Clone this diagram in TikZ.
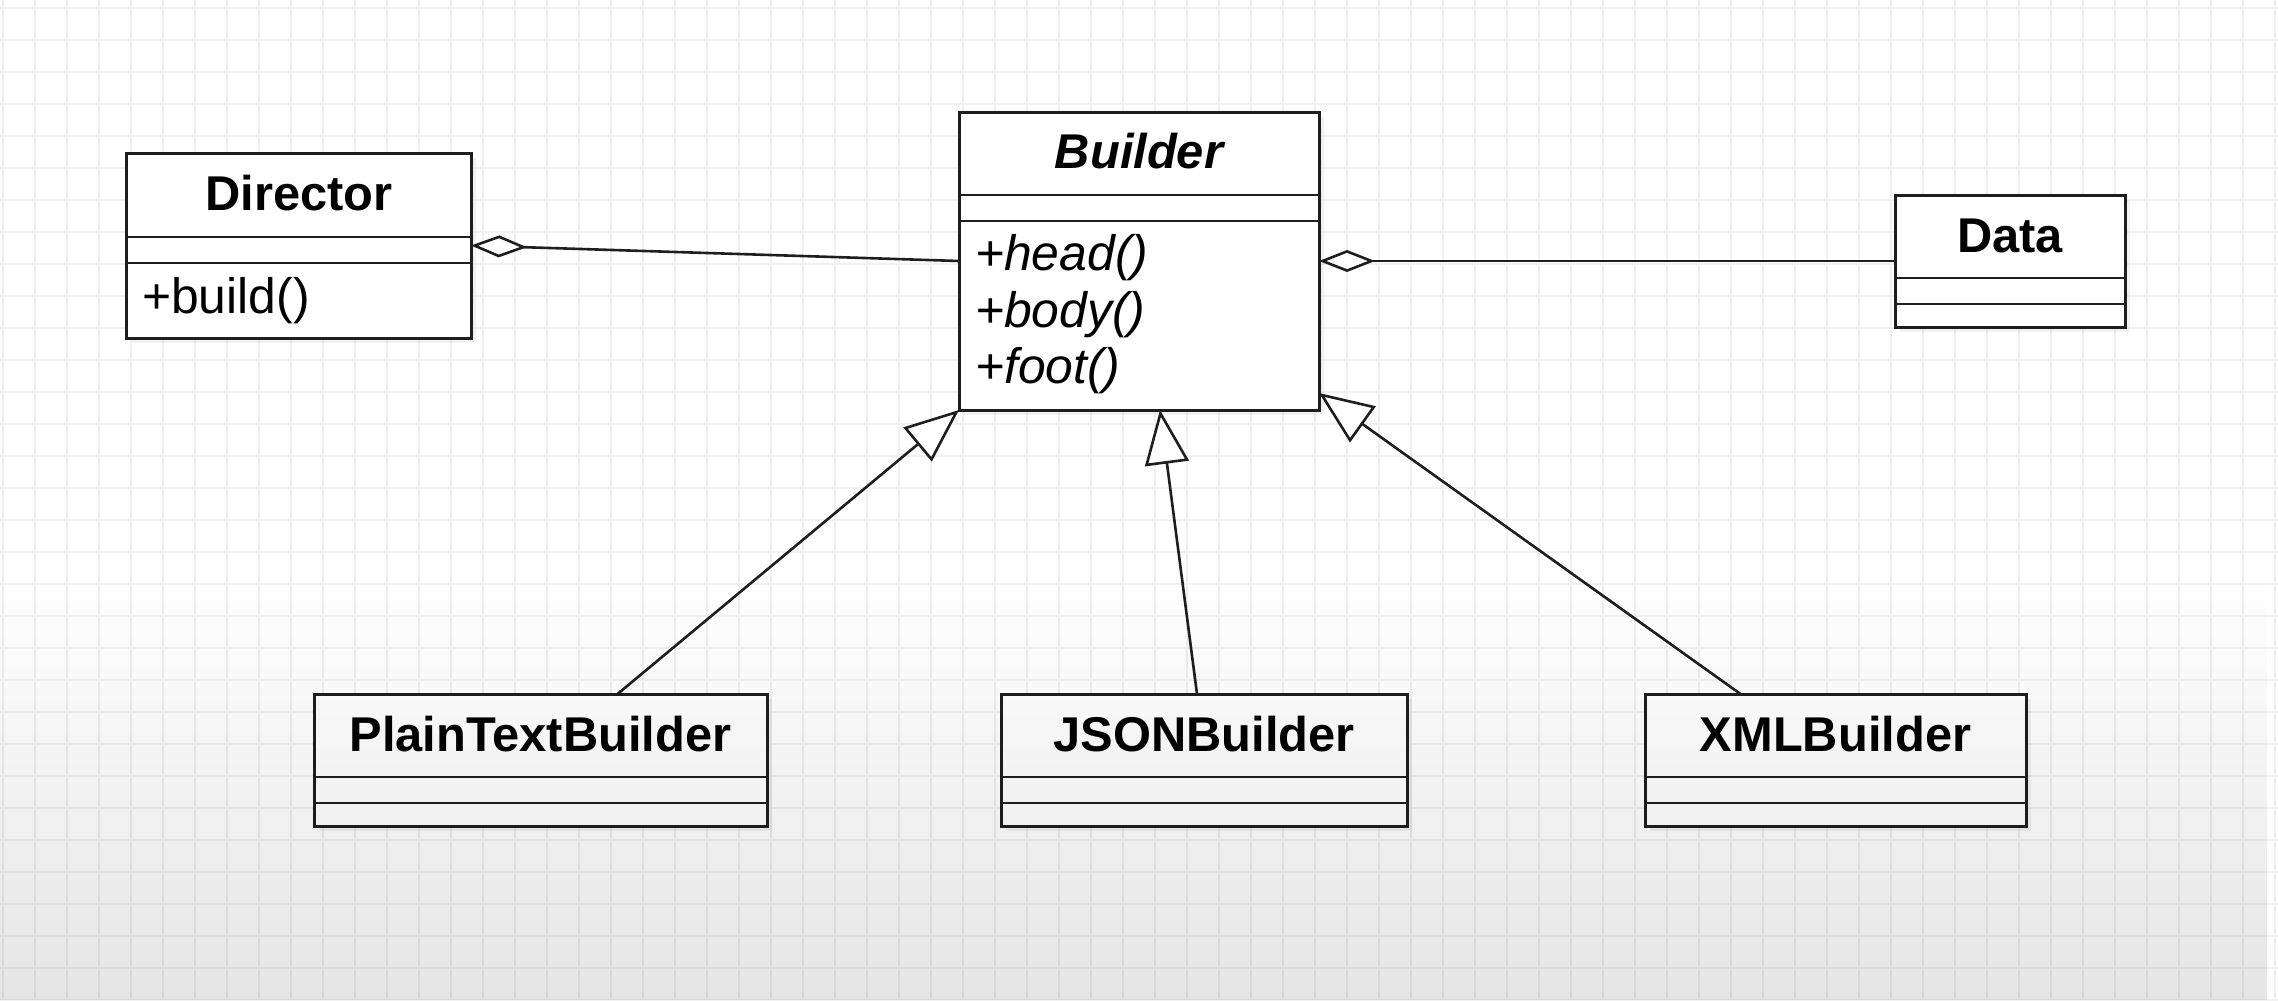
\documentclass[tikz,border=0pt]{standalone}
\usepackage{fontspec}
\setmainfont{Liberation Sans}
\usetikzlibrary{arrows.meta,calc,shadows,fadings}
\definecolor{ink}{HTML}{1E1E1E}
\definecolor{gridc}{HTML}{F0F0F0}
\tikzset{
  classbox/.style={draw=ink, line width=3bp, fill=white, inner sep=0pt, outer sep=0pt,
    minimum height=132bp,
    drop shadow={opacity=0.10, shadow xshift=5bp, shadow yshift=-5bp}},
  septitle/.style={draw=ink, line width=2.8bp},
  ctitle/.style={font=\fontsize{49}{58}\selectfont\bfseries, text=black, inner sep=0pt, anchor=base},
  cmethod/.style={font=\fontsize{50}{60}\selectfont, text=black, inner sep=0pt, anchor=base west},
  gridline/.style={draw=gridc, line width=1.8bp},
  aggreg/.style={draw=ink, line width=2.6bp, {Diamond[fill=white, length=56bp, width=22bp]}-},
  inherit/.style={draw=ink, line width=2.6bp, -{Triangle[fill=white, length=54bp, width=44bp]}}
}
\begin{document}
\begin{tikzpicture}[x=1bp, y=-1bp]
\useasboundingbox (0,0) rectangle (2278,1000);
\fill[white] (0,0) rectangle (2278,1000);
% grid
\foreach \i in {0,...,71} { \draw[gridline] (3+32*\i,0) -- (3+32*\i,1000); }
\foreach \j in {0,...,31} { \draw[gridline] (0,8+32*\j) -- (2278,8+32*\j); }

% Director
\node[classbox, minimum width=344bp, minimum height=185bp] (dir) at (299,245.5) {};
\draw[septitle] ($(dir.north west)+(0,84)$) -- ($(dir.north east)+(0,84)$);
\draw[septitle] ($(dir.north west)+(0,110)$) -- ($(dir.north east)+(0,110)$);
\node[ctitle] (dirT) at ($(dir.north)+(0,57)$) {Director};
\node[cmethod] (dirM) at ($(dir.north west)+(15,160)$) {+build()};

% Builder
\node[classbox, minimum width=360bp, minimum height=298bp] (builder) at (1139,261) {};
\draw[septitle] ($(builder.north west)+(0,83)$) -- ($(builder.north east)+(0,83)$);
\draw[septitle] ($(builder.north west)+(0,109)$) -- ($(builder.north east)+(0,109)$);
\node[ctitle] (builderT) at ($(builder.north)+(0,56)$) {\itshape Builder};
\node[cmethod] (bm1) at ($(builder.north west)+(16,158)$) {\itshape +head()};
\node[cmethod] (bm2) at ($(builder.north west)+(16,215)$) {\itshape +body()};
\node[cmethod] (bm3) at ($(builder.north west)+(16,271)$) {\itshape +foot()};

% Data
\node[classbox, minimum width=230bp] (data) at (2010,261) {};
\draw[septitle] ($(data.north west)+(0,83)$) -- ($(data.north east)+(0,83)$);
\draw[septitle] ($(data.north west)+(0,109)$) -- ($(data.north east)+(0,109)$);
\node[ctitle] (dataT) at ($(data.north)+(0,57)$) {Data};

% PlainTextBuilder
\node[classbox, minimum width=453bp] (ptb) at (540.5,760) {};
\draw[septitle] ($(ptb.north west)+(0,83)$) -- ($(ptb.north east)+(0,83)$);
\draw[septitle] ($(ptb.north west)+(0,109)$) -- ($(ptb.north east)+(0,109)$);
\node[ctitle] (ptbT) at ($(ptb.north)+(0,57)$) {PlainTextBuilder};

% JSONBuilder
\node[classbox, minimum width=406bp] (json) at (1204,760) {};
\draw[septitle] ($(json.north west)+(0,83)$) -- ($(json.north east)+(0,83)$);
\draw[septitle] ($(json.north west)+(0,109)$) -- ($(json.north east)+(0,109)$);
\node[ctitle] (jsonT) at ($(json.north)+(0,57)$) {JSONBuilder};

% XMLBuilder
\node[classbox, minimum width=381bp] (xml) at (1835.5,760) {};
\draw[septitle] ($(xml.north west)+(0,83)$) -- ($(xml.north east)+(0,83)$);
\draw[septitle] ($(xml.north west)+(0,109)$) -- ($(xml.north east)+(0,109)$);
\node[ctitle] (xmlT) at ($(xml.north)+(0,57)$) {XMLBuilder};

% aggregations
\draw[aggreg] (dir.east) -- (builder.west);
\draw[aggreg] (builder.east) -- (data.west);

% generalizations
\draw[inherit] ($(ptb.north)+(77,0)$) -- (builder.south west);
\draw[inherit] ($(json.north)+(-7,0)$) -- ($(builder.south)+(21,0)$);
\draw[inherit] ($(xml.north)+(-95,0)$) -- ($(builder.south east)+(0,-17)$);

% bottom fade
\fill[black, opacity=0.10, path fading=north] (0,580) rectangle (2278,1000);
\end{tikzpicture}
\end{document}
